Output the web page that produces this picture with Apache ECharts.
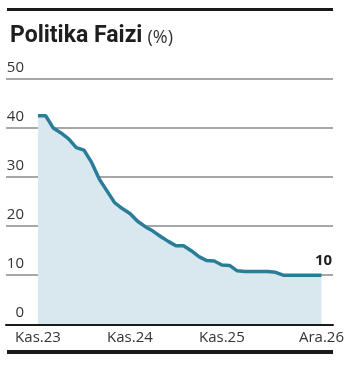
<!DOCTYPE html>
<html><head><meta charset="utf-8">
<script src="https://cdn.jsdelivr.net/npm/echarts@6/dist/echarts.min.js"></script>
<style>html,body{margin:0;padding:0;background:#fff}#c{width:347px;height:371px}</style>
</head><body><div id="c"></div>
<script>
// months since Nov 2023
const monthIndex = [0,1,2,3,4,5,6,7,8,9,10,11,12,13,14,15,16,17,18,19,20,21,22,23,24,25,26,27,28,29,30,31,32,33,34,35,36,37];
const rateValues = [42.5,42.5,40,39,37.8,36,35.5,33,29.6,27.2,24.8,23.6,22.6,21,19.9,19,17.9,16.9,16,16,15,13.8,13,12.9,12.1,12,10.9,10.75,10.75,10.75,10.75,10.6,10,10,10,10,10,10];
const xTickValues = [0,12,24,37];
const xTickLabels = ['Kas.23','Kas.24','Kas.25','Ara.26'];
const yTicks = [0,10,20,30,40,50];

const chart = echarts.init(document.getElementById('c'), null, {renderer:'canvas'});
const FONT = '"Open Sans", sans-serif';
const data = monthIndex.map((m,i)=>[m, rateValues[i]]);
const gTop = 79, gBottom = 371-324.3;
chart.setOption({
  animation:false,
  title:{
    text:'{a|Politika Faizi} {b|(%)}',
    left:5, top:20, padding:[5,5,5,5],
    textStyle:{fontWeight:'normal', rich:{
      a:{fontFamily:'Roboto, sans-serif', fontWeight:'bold', fontSize:23, color:'#1e1e1e'},
      b:{fontFamily:FONT, fontWeight:'normal', fontSize:18, color:'#333', padding:[3,0,0,0]}
    }}
  },
  graphic:[
    {type:'rect', shape:{x:7,y:8,width:326,height:3}, style:{fill:'#1a1a1a'}},
    {type:'rect', shape:{x:7,y:350,width:326,height:4}, style:{fill:'#1a1a1a'}}
  ],
  grid:[
    {left:6, right:14, top:gTop, bottom:gBottom},
    {left:38, right:25.3, top:gTop, bottom:gBottom}
  ],
  xAxis:[
    {gridIndex:0, type:'value', min:0, max:1, axisLine:{show:true, lineStyle:{color:'#1a1a1a', width:2}}, axisTick:{show:false}, axisLabel:{show:false}, splitLine:{show:false}, z:5},
    {gridIndex:1, type:'value', min:0, max:37, axisLine:{show:false}, axisTick:{show:false}, splitLine:{show:false},
     axisLabel:{show:true, customValues:xTickValues, margin:6, fontFamily:FONT, fontSize:15, color:'#333',
       formatter:(v)=>{const k=xTickValues.indexOf(v); return k>=0?xTickLabels[k]:'';}}}
  ],
  yAxis:[
    {gridIndex:0, type:'value', min:0, max:50, interval:10, axisLine:{show:false}, axisTick:{show:false},
     splitLine:{show:true, lineStyle:{color:'#8a8a8a', width:1.5}},
     axisLabel:{show:true, align:'right', verticalAlign:'bottom', margin:-18, padding:[0,0,4,0], fontFamily:FONT, fontSize:15, color:'#333'}},
    {gridIndex:1, type:'value', min:0, max:50, interval:10, show:false, splitLine:{show:false}}
  ],
  series:[{
    type:'line', xAxisIndex:1, yAxisIndex:1, data:data, symbol:'none', showSymbol:false,
    lineStyle:{color:'#2a7d98', width:3.5}, areaStyle:{color:'#d9e7ef', opacity:1}, z:3,
    endLabel:{show:true, formatter:(p)=>String(p.value[1]), align:'center', offset:[2,-15], distance:0,
      fontFamily:FONT, fontWeight:'bold', fontSize:15, color:'#222'}
  }]
});
</script></body></html>
